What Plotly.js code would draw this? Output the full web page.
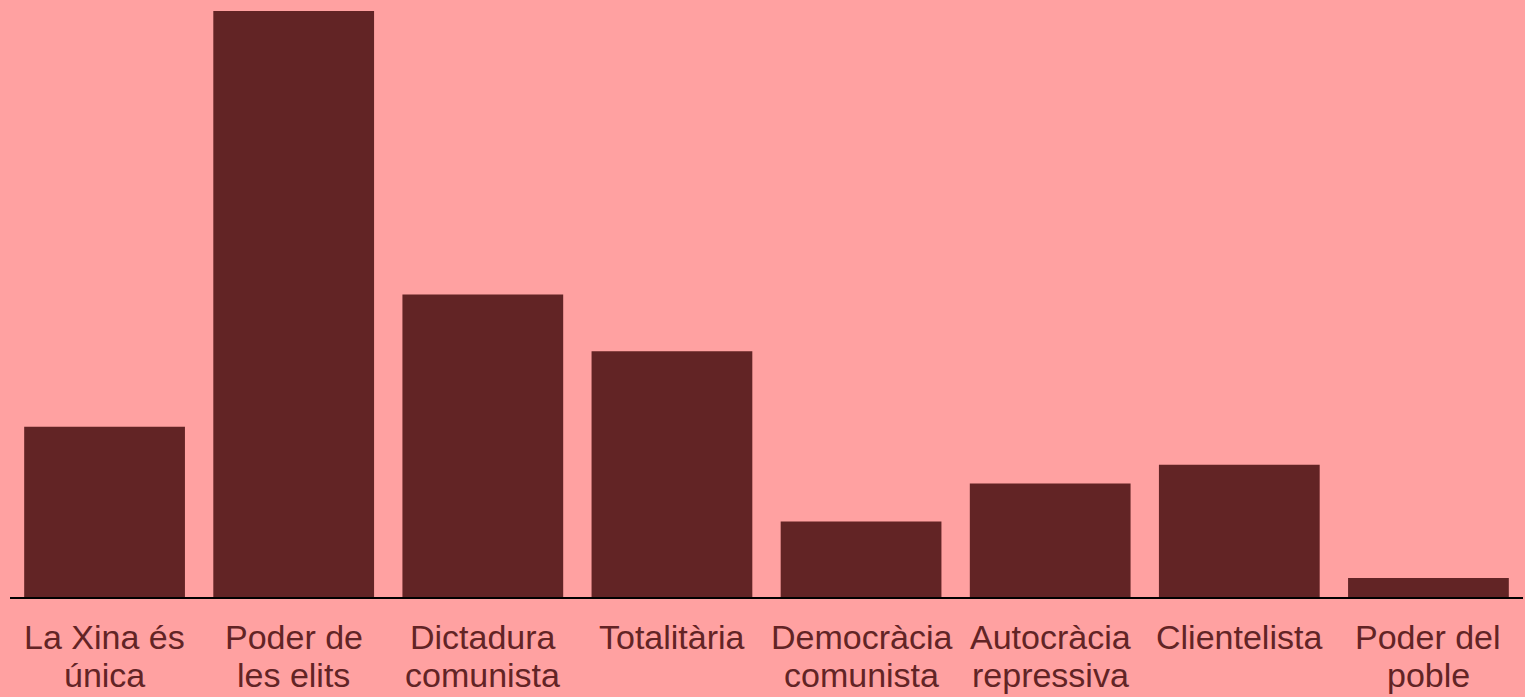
<!DOCTYPE html>
<html>
<head>
<meta charset="utf-8">
<script src="https://cdn.plot.ly/plotly-3.0.1.min.js"></script>
<style>html,body{margin:0;padding:0;background:#FFA1A1;}#chart{width:1525px;height:697px;}</style>
</head>
<body>
<div id="chart"></div>
<script>
const categories = ["La Xina és única", "Poder de les elits", "Dictadura comunista", "Totalitària", "Democràcia comunista", "Autocràcia repressiva", "Clientelista", "Poder del poble"];
const labelLine1 = ["La Xina és", "Poder de", "Dictadura", "Totalitària", "Democràcia", "Autocràcia", "Clientelista", "Poder del"];
const labelLine2 = ["única", "les elits", "comunista", "", "comunista", "repressiva", "", "poble"];
const values = [9, 31, 16, 13, 4, 6, 7, 1];

const textColor = '#622425';
const labelFont = {family: 'Liberation Sans, Arial, sans-serif', size: 34, color: textColor};

const annotations = [];
categories.forEach((c, i) => {
  annotations.push({x: c, y: 0, xref: 'x', yref: 'y', text: labelLine1[i], showarrow: false,
    xanchor: 'center', yanchor: 'middle', yshift: -40, font: labelFont});
  if (labelLine2[i]) {
    annotations.push({x: c, y: 0, xref: 'x', yref: 'y', text: labelLine2[i], showarrow: false,
      xanchor: 'center', yanchor: 'middle', yshift: -78, font: labelFont});
  }
});

const data = [{
  type: 'bar',
  x: categories,
  y: values,
  marker: {color: '#622425'},
  hoverinfo: 'skip'
}];

const layout = {
  width: 1525,
  height: 697,
  paper_bgcolor: '#FFA1A1',
  plot_bgcolor: '#FFA1A1',
  margin: {l: 10, r: 2, t: 11, b: 100},
  bargap: 0.15,
  showlegend: false,
  font: {family: 'Liberation Sans, Arial, sans-serif', color: textColor},
  xaxis: {
    showline: true,
    linecolor: '#000000',
    linewidth: 2,
    ticks: '',
    showticklabels: false,
    showgrid: false,
    zeroline: false,
    fixedrange: true
  },
  yaxis: {
    range: [0, 31],
    visible: false,
    showgrid: false,
    zeroline: false,
    fixedrange: true
  },
  annotations: annotations
};

Plotly.newPlot('chart', data, layout, {displayModeBar: false, staticPlot: true});
</script>
</body>
</html>
